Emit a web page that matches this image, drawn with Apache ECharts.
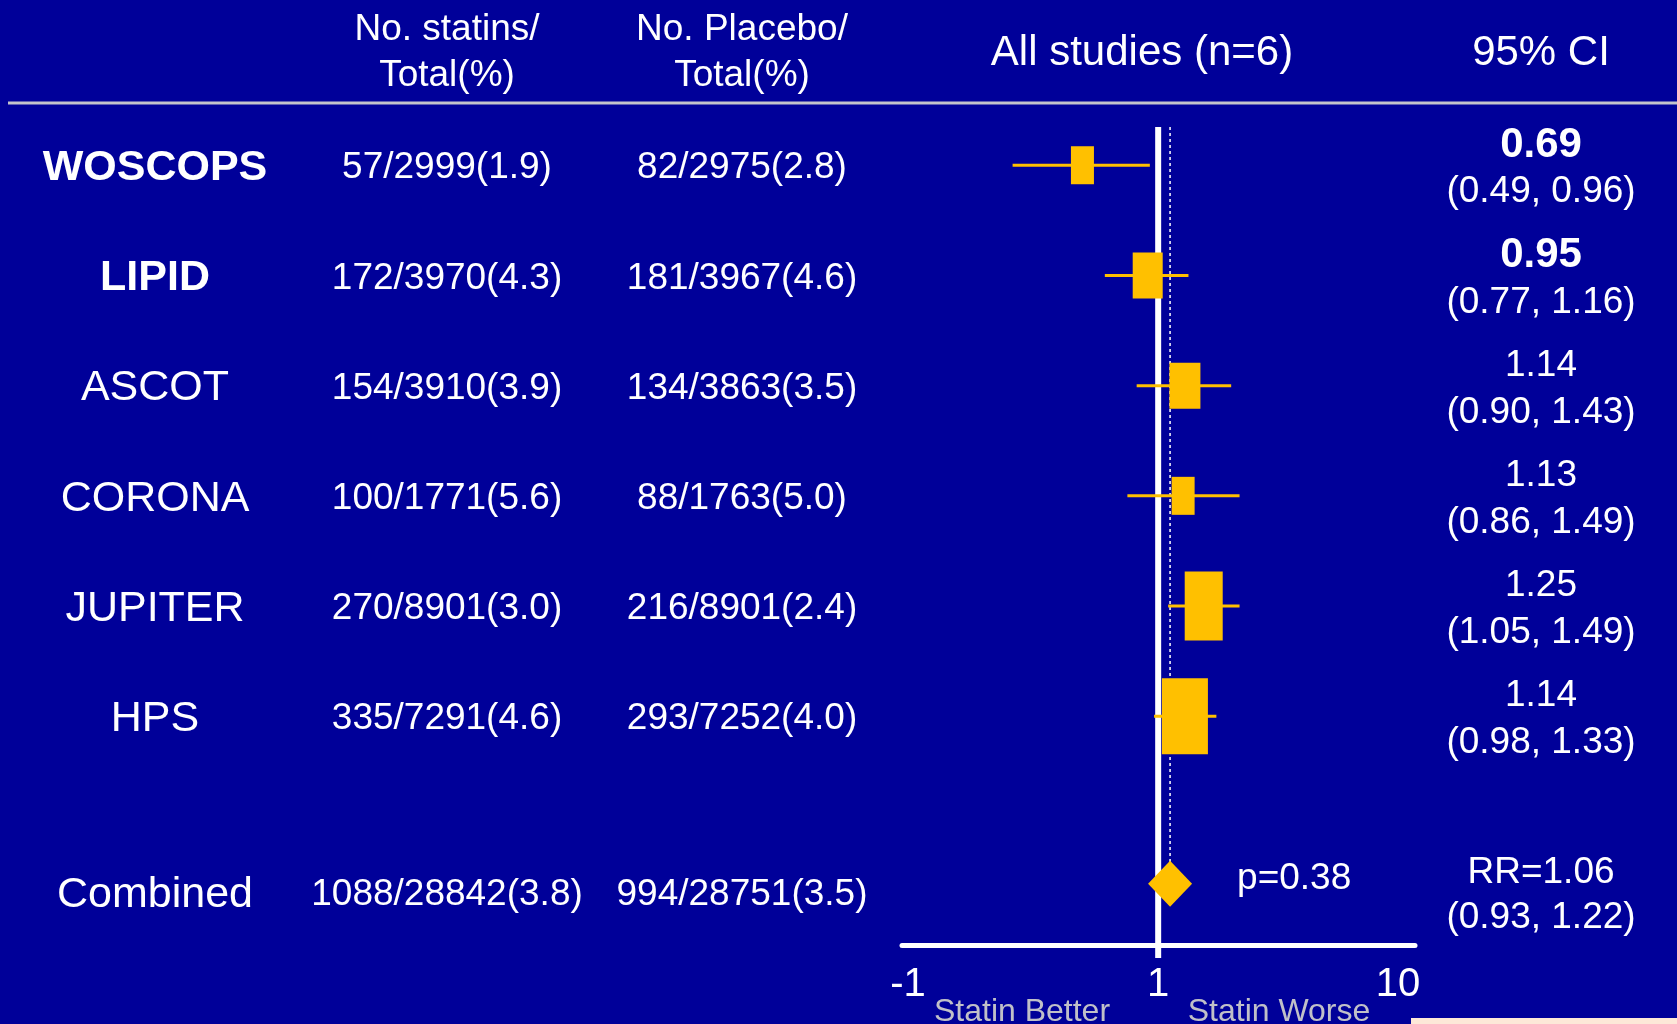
<!DOCTYPE html>
<html>
<head>
<meta charset="utf-8">
<script src="https://cdn.jsdelivr.net/npm/echarts@6/dist/echarts.min.js"></script>
<style>
html,body{margin:0;padding:0;background:#000099;}
#chart{width:1677px;height:1024px;}
</style>
</head>
<body>
<div id="chart"></div>
<script>
// ---------------- data ----------------
const STUDIES = ['WOSCOPS', 'LIPID', 'ASCOT', 'CORONA', 'JUPITER', 'HPS'];
const STATIN_EVENTS = [57, 172, 154, 100, 270, 335];
const STATIN_TOTAL = [2999, 3970, 3910, 1771, 8901, 7291];
const STATIN_PCT = ['1.9', '4.3', '3.9', '5.6', '3.0', '4.6'];
const PLACEBO_EVENTS = [82, 181, 134, 88, 216, 293];
const PLACEBO_TOTAL = [2975, 3967, 3863, 1763, 8901, 7252];
const PLACEBO_PCT = ['2.8', '4.6', '3.5', '5.0', '2.4', '4.0'];
const RR = [0.69, 0.95, 1.14, 1.13, 1.25, 1.14];
const CI_LO = [0.49, 0.77, 0.90, 0.86, 1.05, 0.98];
const CI_HI = [0.96, 1.16, 1.43, 1.49, 1.49, 1.33];
const ROWS = [0, 1, 2, 3, 4, 5];

const COMBINED_LABEL = 'Combined';
const COMBINED_STATIN = [1088, 28842, '3.8'];
const COMBINED_PLACEBO = [994, 28751, '3.5'];
const COMBINED_RR = 1.06;
const COMBINED_CI = [0.93, 1.22];
const COMBINED_ROW = 6.52;
const P_VALUE = '0.38';

const TICK_LABELS = ['-1', '1', '10'];
const SIDE_LABELS = ['Statin Better', 'Statin Worse'];

// ---------------- style ----------------
const BG = '#000099';
const GOLD = '#FFC000';
const FONT = '"Liberation Sans", Arial, sans-serif';
const BOX_SIZES = [[23, 38], [30, 46], [31, 46], [23, 38], [38, 69], [46, 76]];
const BOLD_ROWS = [true, true, false, false, false, false];
const TEXT_DY = 3;

const chart = echarts.init(document.getElementById('chart'), null, {renderer: 'canvas'});

const Y_MIN = -0.347, Y_MAX = 7.076;

const option = {
  backgroundColor: BG,
  animation: false,
  grid: {left: 902, right: 262, top: 127, bottom: 79, containLabel: false},
  xAxis: {
    type: 'log', logBase: 10, min: 0.285, max: 3.52,
    splitLine: {show: false},
    axisTick: {show: false},
    minorTick: {show: false},
    axisLine: {show: true, onZero: false, lineStyle: {color: '#ffffff', width: 5}},
    axisLabel: {
      show: true, color: '#ffffff', fontSize: 40, fontFamily: FONT, margin: 20,
      showMinLabel: true, showMaxLabel: true, alignMinLabel: 'center', alignMaxLabel: 'center',
      formatter: function (v, idx) {
        const t = TICK_LABELS[idx];
        if (t === undefined) return '';
        if (idx === 0) return '{l|' + t + '}';
        if (idx === TICK_LABELS.length - 1) return '{r|' + t + '}';
        return '{m|' + t + '}';
      },
      rich: {
        l: {color: '#ffffff', fontSize: 40, fontFamily: FONT, padding: [0, 0, 0, 12]},
        m: {color: '#ffffff', fontSize: 40, fontFamily: FONT},
        r: {color: '#ffffff', fontSize: 40, fontFamily: FONT, padding: [0, 34, 0, 0]}
      }
    }
  },
  yAxis: {
    type: 'value', inverse: true, min: Y_MIN, max: Y_MAX, show: false
  },
  series: [
    { // reference line at RR = 1 (with a tick below the axis)
      type: 'custom', z: 1, silent: true,
      data: [[1]],
      renderItem: function (params, api) {
        const top = api.coord([api.value(0), Y_MIN]);
        const bot = api.coord([api.value(0), Y_MAX]);
        return {type: 'line', shape: {x1: top[0], y1: top[1], x2: bot[0], y2: bot[1] + 13},
          style: {stroke: '#ffffff', lineWidth: 6}};
      }
    },
    { // dashed line at combined RR
      type: 'custom', z: 1, silent: true,
      data: [[COMBINED_RR, COMBINED_ROW]],
      renderItem: function (params, api) {
        const top = api.coord([api.value(0), Y_MIN]);
        const bot = api.coord([api.value(0), api.value(1)]);
        return {type: 'line', shape: {x1: top[0], y1: top[1], x2: bot[0], y2: bot[1]},
          style: {stroke: '#ffffff', lineWidth: 1.5, lineDash: [3, 3]}};
      }
    },
    { // confidence intervals
      type: 'custom', z: 3, silent: true,
      data: ROWS.map((r, i) => [CI_LO[i], CI_HI[i], r]),
      renderItem: function (params, api) {
        const a = api.coord([api.value(0), api.value(2)]);
        const b = api.coord([api.value(1), api.value(2)]);
        return {type: 'line', shape: {x1: a[0], y1: a[1], x2: b[0], y2: b[1]},
          style: {stroke: GOLD, lineWidth: 3}};
      }
    },
    { // point estimates
      type: 'scatter', z: 4, silent: true,
      symbol: 'rect',
      data: ROWS.map((r, i) => ({value: [RR[i], r], symbolSize: BOX_SIZES[i]})),
      itemStyle: {color: GOLD, opacity: 1}
    },
    { // combined diamond
      type: 'scatter', z: 4, silent: true,
      symbol: 'diamond', symbolSize: [44, 46],
      data: [[COMBINED_RR, COMBINED_ROW]],
      itemStyle: {color: GOLD, opacity: 1},
      label: {show: true, position: 'right', distance: 45, offset: [0, -5],
        formatter: 'p=' + P_VALUE, color: '#ffffff', fontSize: 37, fontFamily: FONT}
    }
  ]
};
chart.setOption(option);

// ---------------- table text ----------------
const COL_NAME = 155, COL_STATIN = 447, COL_PLACEBO = 742, COL_CI = 1541;
function rowY(r) { return chart.convertToPixel({yAxisIndex: 0}, r) + TEXT_DY; }
function txt(text, x, y, size, opts) {
  opts = opts || {};
  return {
    type: 'text', x: x, y: y, silent: true, z: 10,
    style: {
      text: text, fill: opts.color || '#ffffff',
      font: (opts.bold ? 'bold ' : '') + size + 'px ' + FONT,
      align: opts.align || 'center', verticalAlign: 'middle',
      textShadowColor: opts.bold ? 'rgba(0,0,40,0.8)' : 'transparent',
      textShadowOffsetX: opts.bold ? 2 : 0, textShadowOffsetY: opts.bold ? 2 : 0
    }
  };
}
const g = [];
// header
g.push(txt('No. statins/', COL_STATIN, 27 + TEXT_DY, 37));
g.push(txt('Total(%)', COL_STATIN, 73 + TEXT_DY, 37));
g.push(txt('No. Placebo/', COL_PLACEBO, 27 + TEXT_DY, 37));
g.push(txt('Total(%)', COL_PLACEBO, 73 + TEXT_DY, 37));
g.push(txt('All studies (n=6)', 1142, 50 + TEXT_DY, 42));
g.push(txt('95% CI', COL_CI, 50 + TEXT_DY, 42));
g.push({type: 'line', silent: true, shape: {x1: 8, y1: 103, x2: 1677, y2: 103},
  style: {stroke: '#C4C4CC', lineWidth: 3}});

ROWS.forEach((r, i) => {
  const y = rowY(r);
  g.push(txt(STUDIES[i], COL_NAME, y, 43, {bold: BOLD_ROWS[i]}));
  g.push(txt(STATIN_EVENTS[i] + '/' + STATIN_TOTAL[i] + '(' + STATIN_PCT[i] + ')', COL_STATIN, y, 37));
  g.push(txt(PLACEBO_EVENTS[i] + '/' + PLACEBO_TOTAL[i] + '(' + PLACEBO_PCT[i] + ')', COL_PLACEBO, y, 37));
  g.push(txt(RR[i].toFixed(2), COL_CI, y - 23, BOLD_ROWS[i] ? 42 : 37, {bold: BOLD_ROWS[i]}));
  g.push(txt('(' + CI_LO[i].toFixed(2) + ', ' + CI_HI[i].toFixed(2) + ')', COL_CI, y + 24, 37));
});
const yc = rowY(COMBINED_ROW) + 8;
g.push(txt(COMBINED_LABEL, COL_NAME, yc, 43));
g.push(txt(COMBINED_STATIN[0] + '/' + COMBINED_STATIN[1] + '(' + COMBINED_STATIN[2] + ')', COL_STATIN, yc, 37));
g.push(txt(COMBINED_PLACEBO[0] + '/' + COMBINED_PLACEBO[1] + '(' + COMBINED_PLACEBO[2] + ')', COL_PLACEBO, yc, 37));
g.push(txt('RR=' + COMBINED_RR.toFixed(2), COL_CI, yc - 22, 37));
g.push(txt('(' + COMBINED_CI[0].toFixed(2) + ', ' + COMBINED_CI[1].toFixed(2) + ')', COL_CI, yc + 23, 37));

// side labels under the axis
g.push(txt(SIDE_LABELS[0], 1022, 1012, 32, {color: '#C0C0C8'}));
g.push(txt(SIDE_LABELS[1], 1279, 1012, 32, {color: '#C0C0C8'}));
// corner strip (logo fragment)
g.push({type: 'rect', silent: true, z: 0, shape: {x: 1411, y: 1018, width: 266, height: 6},
  style: {fill: '#FDE8D8'}});

chart.setOption({graphic: g});
</script>
</body>
</html>
